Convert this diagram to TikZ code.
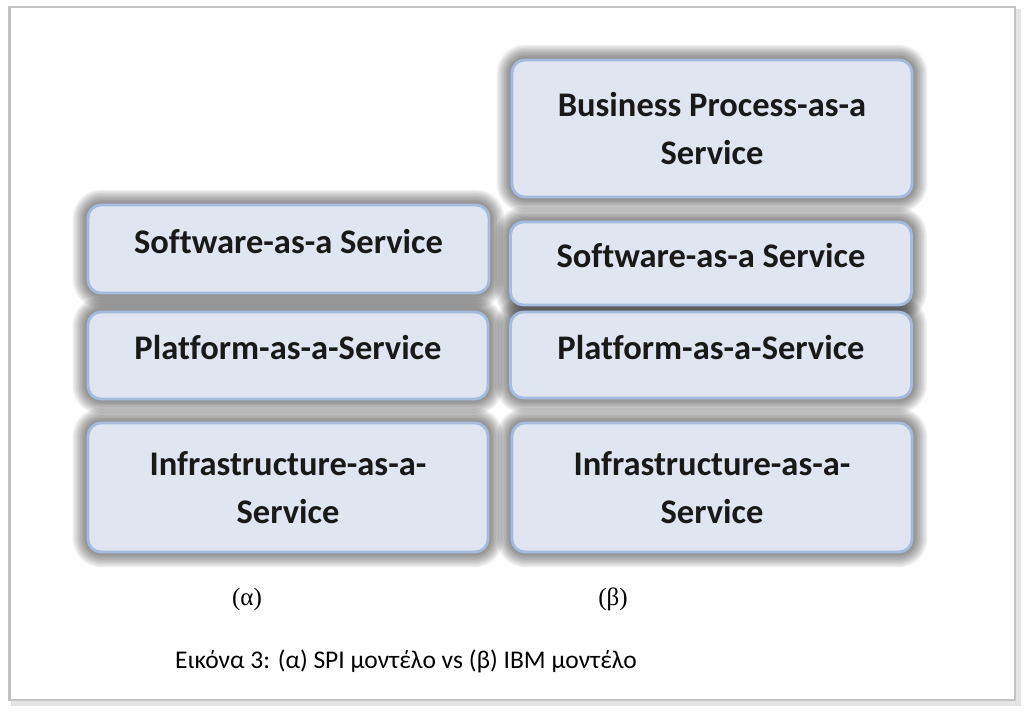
\documentclass[tikz,border=0pt]{standalone}
\usepackage{fontspec}
\setmainfont{Carlito}[Ligatures={NoCommon}]
\newfontfamily\capserif{Liberation Serif}
\usetikzlibrary{calc}
\pgfdeclarelayer{background}
\pgfsetlayers{background,main}
\definecolor{boxfill}{HTML}{DFE6F1}
\definecolor{boxborder}{HTML}{A3BCDD}
\definecolor{framegray}{HTML}{C4C4C4}
\tikzset{
  x=1pt, y=-1pt,
  layer/.style={draw=boxborder, line width=2.8pt, fill=boxfill, rounded corners=13pt,
    font=\fontsize{34.5}{48}\selectfont\bfseries, align=center, inner sep=0pt, text=black!90},
  oneline/.style={text height=30pt, text depth=22pt},
  sublabel/.style={font=\capserif\fontsize{25}{28}\selectfont, inner sep=0pt},
  figcaption/.style={font=\fontsize{25.5}{29}\selectfont, inner sep=0pt}
}
\newcommand{\glowbox}[1]{%
  \begin{pgfonlayer}{background}
  \foreach \w in {28,25,...,4}{
    \draw[line width=\w pt, black, opacity=0.055, rounded corners=15pt]
      (#1.north west) rectangle (#1.south east);
  }
  \end{pgfonlayer}}
\begin{document}
\begin{tikzpicture}
\useasboundingbox (0,0) rectangle (1024,712);
% page frame with shadow
\begin{pgfonlayer}{background}
\fill[black!18] (13,11) rectangle (1019,704);
\fill[black!10] (11,9) rectangle (1021,706);
\draw[framegray, line width=1.2pt, fill=white] (9,7) rectangle (1015,700);
\fill[black!25] (9,7) rectangle (11,700);
\end{pgfonlayer}

% (alpha) column
\node[layer, oneline, minimum width=401pt, minimum height=88pt] (sa) at (288.5,249) {Software-as-a Service};
\node[layer, oneline, minimum width=400pt, minimum height=87pt] (pa) at (288,355.5) {Platform-as-a-Service};
\node[layer, minimum width=400pt, minimum height=129pt] (ia) at (288,487.5) {Infrastructure-as-a-\\Service};
% (beta) column
\node[layer, minimum width=400pt, minimum height=137pt] (bb) at (712,128.5) {Business Process-as-a\\Service};
\node[layer, oneline, minimum width=401pt, minimum height=83pt] (sb) at (711,263.5) {Software-as-a Service};
\node[layer, oneline, minimum width=401pt, minimum height=86pt] (pb) at (711,355) {Platform-as-a-Service};
\node[layer, minimum width=400pt, minimum height=129pt] (ib) at (712,487.5) {Infrastructure-as-a-\\Service};

\glowbox{sa}\glowbox{pa}\glowbox{ia}
\glowbox{bb}\glowbox{sb}\glowbox{pb}\glowbox{ib}

\node[sublabel] (la) at (247,599) {(α)};
\node[sublabel] (lb) at (613,599) {(β)};
\node[figcaption] (fig) at (406,661) {Εικόνα 3: (α) SPI μοντέλο vs (β) IBM μοντέλο};
\end{tikzpicture}
\end{document}
